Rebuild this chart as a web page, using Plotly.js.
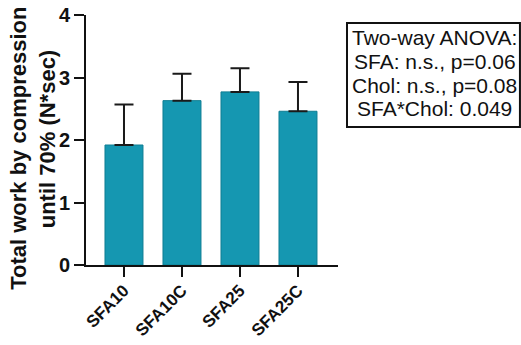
<!DOCTYPE html>
<html>
<head>
<meta charset="utf-8">
<script src="https://cdn.plot.ly/plotly-3.0.1.min.js"></script>
<style>html,body{margin:0;padding:0;background:#fff;}#chart{width:521px;height:345px;}</style>
</head>
<body>
<div id="chart"></div>
<script>
// Data
const categories = ['SFA10', 'SFA10C', 'SFA25', 'SFA25C'];
const meanValues = [1.92, 2.63, 2.77, 2.46];
const errorPlus = [0.65, 0.43, 0.38, 0.47];
const yTickValues = [0, 1, 2, 3, 4];
const yTitleLines = ['Total work by compression', 'until 70% (N*sec)'];
const statsLines = ['Two-way ANOVA:', 'SFA: n.s., p=0.06', 'Chol: n.s., p=0.08', 'SFA*Chol: 0.049'];

const FONT = 'Liberation Sans, Arial, Helvetica, sans-serif';

const trace = {
  type: 'bar',
  x: categories,
  y: meanValues,
  width: 0.655,
  marker: { color: '#1597b1', line: { color: '#0f7e93', width: 1 } },
  error_y: { type: 'data', symmetric: false, array: errorPlus, arrayminus: categories.map(() => 0),
             color: '#1a1a1a', thickness: 2, width: 9.5 },
  hoverinfo: 'none'
};

const statsY = [0.908, 0.8136, 0.7192, 0.6252];
const annotations = statsLines.map((t, i) => ({
  text: t, xref: 'paper', yref: 'paper', x: 1.383, y: statsY[i],
  xanchor: 'center', yanchor: 'middle', showarrow: false,
  font: { family: FONT, size: 21, color: '#111' }
}));
const titleX = [-0.2706, -0.1536];
const titleY = [0.468, 0.504];
yTitleLines.forEach((t, i) => annotations.push({
  text: t, xref: 'paper', yref: 'paper', x: titleX[i], y: titleY[i],
  xanchor: 'center', yanchor: 'middle', textangle: -90, showarrow: false,
  font: { family: FONT, size: 22, color: '#111', weight: 'bold' }
}));

const layout = {
  width: 521, height: 345,
  margin: { l: 86, r: 183, t: 15, b: 80, pad: 0 },
  paper_bgcolor: '#fff', plot_bgcolor: '#fff',
  showlegend: false,
  xaxis: {
    type: 'category', range: [-0.655, 3.69],
    showline: true, linecolor: '#111', linewidth: 2,
    ticks: 'outside', ticklen: 10, tickwidth: 2, tickcolor: '#111',
    tickangle: -45, showgrid: false, zeroline: false, ticklabelstandoff: -3,
    tickfont: { family: FONT, size: 17, color: '#111', weight: 'bold' }
  },
  yaxis: {
    range: [0, 4], tickvals: yTickValues, ticktext: yTickValues.map(String),
    showline: true, linecolor: '#111', linewidth: 2,
    ticks: 'outside', ticklen: 10, tickwidth: 2, tickcolor: '#111',
    showgrid: false, zeroline: false,
    tickfont: { family: FONT, size: 20, color: '#111', weight: 'bold' }
  },
  shapes: [{
    type: 'rect', xref: 'paper', yref: 'paper',
    x0: 1.0357, x1: 1.722, y0: 0.552, y1: 0.968,
    line: { color: '#111', width: 2 }, fillcolor: 'rgba(0,0,0,0)'
  }],
  annotations: annotations
};

Plotly.newPlot('chart', [trace], layout, { staticPlot: true, displayModeBar: false });
</script>
</body>
</html>
